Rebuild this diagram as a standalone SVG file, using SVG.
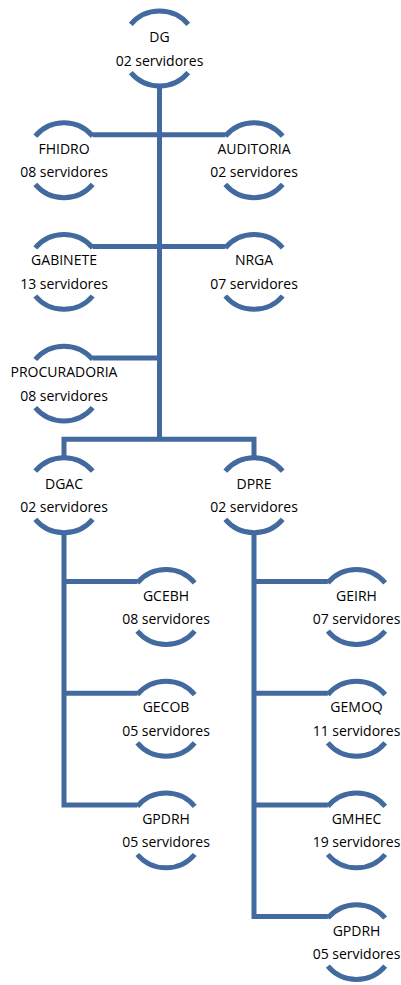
<svg xmlns="http://www.w3.org/2000/svg" width="401" height="985" viewBox="0 0 401 985">
<defs>
<style>
.arc{fill:none;stroke:#426A9E;stroke-width:5}
.con{fill:none;stroke:#426A9E;stroke-width:5;stroke-linejoin:miter}
text{font-family:"Open Sans","Noto Sans",sans-serif;font-size:14px;fill:#000;text-anchor:middle}
</style>
<path id="shape" d="M-28.7 -24.1 A37.5 37.5 0 0 1 28.7 -24.1 M-28.7 24.1 A37.5 37.5 0 0 0 28.7 24.1"/>
</defs>
<rect width="401" height="985" fill="#fff"/>
<g id="connectors">
<path class="con" d="M159.5 86 V439.3"/>
<path class="con" d="M92.7 134.7 H225.3"/>
<path class="con" d="M92.7 246.4 H225.3"/>
<path class="con" d="M92.7 358.1 H159.5"/>
<path class="con" d="M64 458 V439.3 H254 V458"/>
<path class="con" d="M64 532.8 V804.9 H137.3 M64 581.5 H137.3 M64 693.2 H137.3"/>
<path class="con" d="M254 532.8 V916.6 H327.8 M254 581.5 H327.8 M254 693.2 H327.8 M254 804.9 H327.8"/>
</g>
<g id="n-dg" transform="translate(159.5 48.5)"><use href="#shape" class="arc"/><text y="-6.5">DG</text><text y="17">02 servidores</text></g>
<g id="n-fhidro" transform="translate(64 160.2)"><use href="#shape" class="arc"/><text y="-6.5">FHIDRO</text><text y="17">08 servidores</text></g>
<g id="n-auditoria" transform="translate(254 160.2)"><use href="#shape" class="arc"/><text y="-6.5">AUDITORIA</text><text y="17">02 servidores</text></g>
<g id="n-gabinete" transform="translate(64 271.9)"><use href="#shape" class="arc"/><text y="-6.5">GABINETE</text><text y="17">13 servidores</text></g>
<g id="n-nrga" transform="translate(254 271.9)"><use href="#shape" class="arc"/><text y="-6.5">NRGA</text><text y="17">07 servidores</text></g>
<g id="n-procuradoria" transform="translate(64 383.6)"><use href="#shape" class="arc"/><text y="-6.5">PROCURADORIA</text><text y="17">08 servidores</text></g>
<g id="n-dgac" transform="translate(64 495.3)"><use href="#shape" class="arc"/><text y="-6.5">DGAC</text><text y="17">02 servidores</text></g>
<g id="n-dpre" transform="translate(254 495.3)"><use href="#shape" class="arc"/><text y="-6.5">DPRE</text><text y="17">02 servidores</text></g>
<g id="n-gcebh" transform="translate(166 607)"><use href="#shape" class="arc"/><text y="-6.5">GCEBH</text><text y="17">08 servidores</text></g>
<g id="n-gecob" transform="translate(166 718.7)"><use href="#shape" class="arc"/><text y="-6.5">GECOB</text><text y="17">05 servidores</text></g>
<g id="n-gpdrh1" transform="translate(166 830.4)"><use href="#shape" class="arc"/><text y="-6.5">GPDRH</text><text y="17">05 servidores</text></g>
<g id="n-geirh" transform="translate(356.5 607)"><use href="#shape" class="arc"/><text y="-6.5">GEIRH</text><text y="17">07 servidores</text></g>
<g id="n-gemoq" transform="translate(356.5 718.7)"><use href="#shape" class="arc"/><text y="-6.5">GEMOQ</text><text y="17">11 servidores</text></g>
<g id="n-gmhec" transform="translate(356.5 830.4)"><use href="#shape" class="arc"/><text y="-6.5">GMHEC</text><text y="17">19 servidores</text></g>
<g id="n-gpdrh2" transform="translate(356.5 942.1)"><use href="#shape" class="arc"/><text y="-6.5">GPDRH</text><text y="17">05 servidores</text></g>
</svg>
